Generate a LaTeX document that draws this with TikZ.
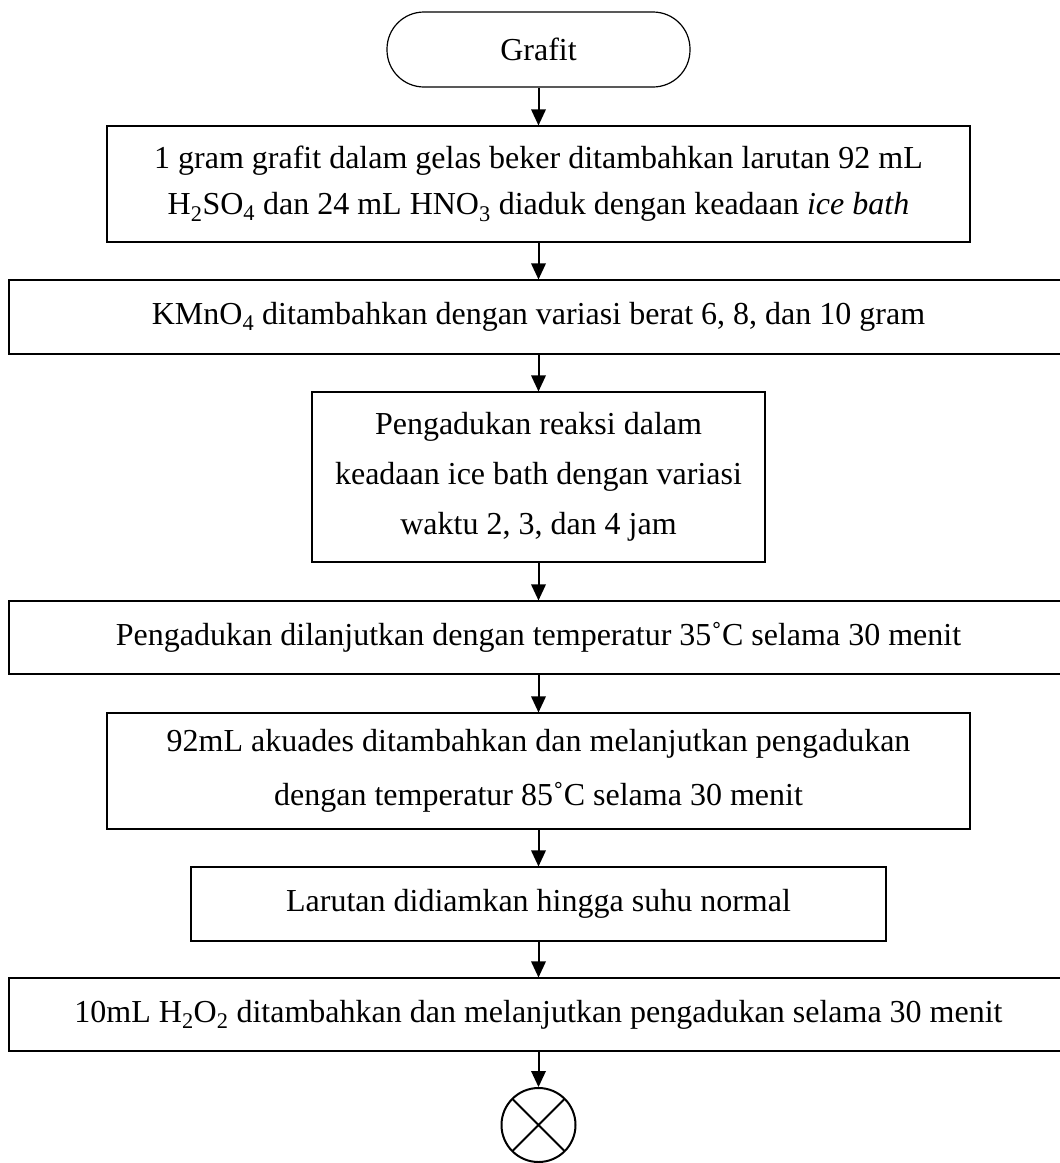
\documentclass[tikz,border=0pt]{standalone}
\usepackage{fontspec}
\setmainfont{Liberation Serif}
\tikzset{
  teks/.style={font=\fontsize{32}{46}\selectfont},
  proses/.style={teks, draw=black, line width=1.2pt, rectangle, align=center, inner sep=0pt},
  terminal/.style={teks, draw=black, line width=1.2pt, rectangle, rounded corners=37pt, inner sep=0pt},
  silang/.style={draw=black, line width=2pt, circle, inner sep=0pt, minimum size=74pt,
    path picture={\draw[line width=2pt] (path picture bounding box.north west) -- (path picture bounding box.south east)
      (path picture bounding box.north east) -- (path picture bounding box.south west);}},
  panah/.style={line width=2pt}
}
\begin{document}
\begin{tikzpicture}[x=1pt,y=-1pt]
    \useasboundingbox (0,0) rectangle (1060,1163);
    \clip (0,0) rectangle (1060,1163);
    % tahapan
    \node [terminal, minimum width=303pt, minimum height=75pt] (grafit) at (538.5,49.5) {Grafit};
    \node [proses, minimum width=863pt, minimum height=116pt] (campur) at (538.5,184)
        {1 gram grafit dalam gelas beker ditambahkan larutan 92 mL\\
         H\textsubscript{2}SO\textsubscript{4} dan 24 mL HNO\textsubscript{3} diaduk dengan keadaan \textit{ice bath}};
    \node [proses, minimum width=1059pt, minimum height=74pt] (kmno) at (538.5,317)
        {KMnO\textsubscript{4} ditambahkan dengan variasi berat 6, 8, dan 10 gram};
    \node [proses, minimum width=453pt, minimum height=170pt] (aduk) at (538.5,477)
        {Pengadukan reaksi dalam\\[4pt] keadaan ice bath dengan variasi\\[4pt] waktu 2, 3, dan 4 jam};
    \node [proses, minimum width=1059pt, minimum height=73pt] (panas) at (538.5,637.5)
        {Pengadukan dilanjutkan dengan temperatur 35˚C selama 30 menit};
    \node [proses, minimum width=863pt, minimum height=116pt] (akuades) at (538.5,771)
        {92mL akuades ditambahkan dan melanjutkan pengadukan\\[8pt]
         dengan temperatur 85˚C selama 30 menit};
    \node [proses, minimum width=695pt, minimum height=74pt] (diam) at (538.5,904)
        {Larutan didiamkan hingga suhu normal};
    \node [proses, minimum width=1059pt, minimum height=73pt] (peroksida) at (538.5,1014.5)
        {10mL H\textsubscript{2}O\textsubscript{2} ditambahkan dan melanjutkan pengadukan selama 30 menit};
    \node [silang] (akhir) at (538.5,1125) {};
    % panah
    \draw [panah] (grafit.south) -- ([yshift=15pt]campur.north);
    \fill [black] (campur.north) -- ++(-7.5,-16) -- ++(15,0);
    \draw [panah] (campur.south) -- ([yshift=15pt]kmno.north);
    \fill [black] (kmno.north) -- ++(-7.5,-16) -- ++(15,0);
    \draw [panah] (kmno.south) -- ([yshift=15pt]aduk.north);
    \fill [black] (aduk.north) -- ++(-7.5,-16) -- ++(15,0);
    \draw [panah] (aduk.south) -- ([yshift=15pt]panas.north);
    \fill [black] (panas.north) -- ++(-7.5,-16) -- ++(15,0);
    \draw [panah] (panas.south) -- ([yshift=15pt]akuades.north);
    \fill [black] (akuades.north) -- ++(-7.5,-16) -- ++(15,0);
    \draw [panah] (akuades.south) -- ([yshift=15pt]diam.north);
    \fill [black] (diam.north) -- ++(-7.5,-16) -- ++(15,0);
    \draw [panah] (diam.south) -- ([yshift=15pt]peroksida.north);
    \fill [black] (peroksida.north) -- ++(-7.5,-16) -- ++(15,0);
    \draw [panah] (peroksida.south) -- ([yshift=15pt]akhir.north);
    \fill [black] (akhir.north) -- ++(-7.5,-16) -- ++(15,0);
\end{tikzpicture}
\end{document}
